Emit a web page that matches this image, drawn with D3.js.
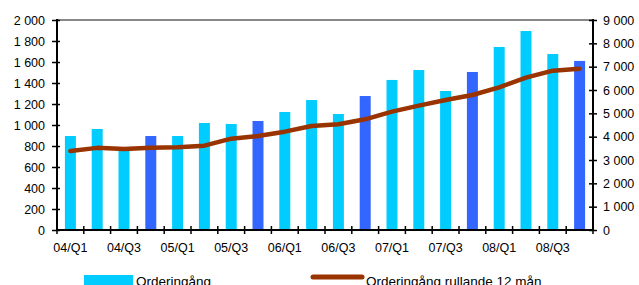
<!DOCTYPE html>
<html><head><meta charset="utf-8">
<script src="https://cdn.jsdelivr.net/npm/d3@7"></script>
<style>body{margin:0;background:#fff}svg{display:block}text{font-family:"Liberation Sans",Arial,sans-serif}</style>
</head><body>
<svg id="c" width="639" height="285"></svg>
<script>
const categories = ["04/Q1","04/Q2","04/Q3","04/Q4","05/Q1","05/Q2","05/Q3","05/Q4","06/Q1","06/Q2","06/Q3","06/Q4","07/Q1","07/Q2","07/Q3","07/Q4","08/Q1","08/Q2","08/Q3","08/Q4"];
const orders = [895,962,765,895,895,1019,1010,1038,1124,1238,1105,1276,1429,1524,1324,1505,1743,1895,1676,1610];
const rolling12 = [3386,3520,3471,3529,3543,3614,3914,4029,4214,4457,4529,4743,5071,5330,5571,5786,6114,6529,6830,6914];
const leftTicks = [0,200,400,600,800,1000,1200,1400,1600,1800,2000];
const rightTicks = [0,1000,2000,3000,4000,5000,6000,7000,8000,9000];
const xLabels = ["04/Q1","04/Q3","05/Q1","05/Q3","06/Q1","06/Q3","07/Q1","07/Q3","08/Q1","08/Q3"];
const seriesNames = ["Orderingång","Orderingång rullande 12 mån"];

const svg = d3.select("#c");
const L = 57, R = 593, T = 20, B = 230;
const fmt = v => d3.format(",")(v).replace(/,/g, " ");
const x = d3.scaleBand().domain(categories).range([L, R]).paddingInner(0.59).paddingOuter(0.295);
const yL = d3.scaleLinear().domain([0, 2000]).range([B, T]);
const yR = d3.scaleLinear().domain([0, 9000]).range([B, T]);

// top border
svg.append("line").attr("x1", L).attr("x2", R).attr("y1", T).attr("y2", T).attr("stroke", "#888").attr("stroke-width", 2);

// bars
svg.append("g").selectAll("rect").data(categories).join("rect")
  .attr("x", d => x(d)).attr("width", x.bandwidth())
  .attr("y", (d, i) => yL(orders[i])).attr("height", (d, i) => B - yL(orders[i]))
  .attr("fill", d => d.endsWith("Q4") ? "#3366FF" : "#00CCFF");

// line
const cx = d => x(d) + x.bandwidth() / 2;
svg.append("path").datum(categories)
  .attr("d", d3.line().x(d => cx(d)).y((d, i) => yR(rolling12[i])))
  .attr("fill", "none").attr("stroke", "#993300").attr("stroke-width", 4.5)
  .attr("stroke-linejoin", "round").attr("stroke-linecap", "round");

// left axis
const gl = svg.append("g").attr("transform", `translate(${L},0)`)
  .call(d3.axisLeft(yL).tickValues(leftTicks).tickFormat(fmt).tickSize(0).tickPadding(12));
gl.select(".domain").remove();
gl.selectAll("text").attr("font-size", 12.5).attr("fill", "#000").attr("font-family", '"Liberation Sans",Arial,sans-serif');
gl.selectAll(".tick").append("line").attr("x1", -5).attr("x2", 3).attr("stroke", "#000").attr("stroke-width", 1.5);
svg.append("line").attr("x1", L).attr("x2", L).attr("y1", T - 1).attr("y2", B + 1).attr("stroke", "#000").attr("stroke-width", 2);

// right axis
const gr = svg.append("g").attr("transform", `translate(${R},0)`)
  .call(d3.axisRight(yR).tickValues(rightTicks).tickFormat(fmt).tickSize(0).tickPadding(10));
gr.select(".domain").remove();
gr.selectAll("text").attr("font-size", 12.5).attr("fill", "#000").attr("font-family", '"Liberation Sans",Arial,sans-serif');
gr.selectAll(".tick").append("line").attr("x1", -4).attr("x2", 4).attr("stroke", "#000").attr("stroke-width", 1.5);
svg.append("line").attr("x1", R).attr("x2", R).attr("y1", T - 1).attr("y2", B + 1).attr("stroke", "#000").attr("stroke-width", 2);

// bottom axis
const gb = svg.append("g").attr("transform", `translate(0,${B})`)
  .call(d3.axisBottom(x).tickValues(xLabels).tickSize(0).tickPadding(13));
gb.select(".domain").remove();
gb.selectAll("text").attr("font-size", 12.5).attr("fill", "#000").attr("font-family", '"Liberation Sans",Arial,sans-serif');
const step = x.step();
const bounds = d3.range(categories.length + 1).map(i => L + i * step);
svg.append("g").selectAll("line").data(bounds).join("line")
  .attr("x1", d => d).attr("x2", d => d).attr("y1", B - 4).attr("y2", B + 4)
  .attr("stroke", "#000").attr("stroke-width", 1.5);
svg.append("line").attr("x1", L - 1).attr("x2", R + 1).attr("y1", B).attr("y2", B).attr("stroke", "#000").attr("stroke-width", 2);

// legend
const lg = svg.append("g");
lg.append("rect").attr("x", 84).attr("y", 275).attr("width", 49).attr("height", 12).attr("fill", "#00CCFF");
lg.append("text").attr("x", 136).attr("y", 286).attr("font-size", 13.5).text(seriesNames[0]);
lg.append("line").attr("x1", 313).attr("x2", 362).attr("y1", 277).attr("y2", 277).attr("stroke", "#993300").attr("stroke-width", 5).attr("stroke-linecap", "round");
lg.append("text").attr("x", 366).attr("y", 286).attr("font-size", 13.5).text(seriesNames[1]);
</script>
</body></html>
